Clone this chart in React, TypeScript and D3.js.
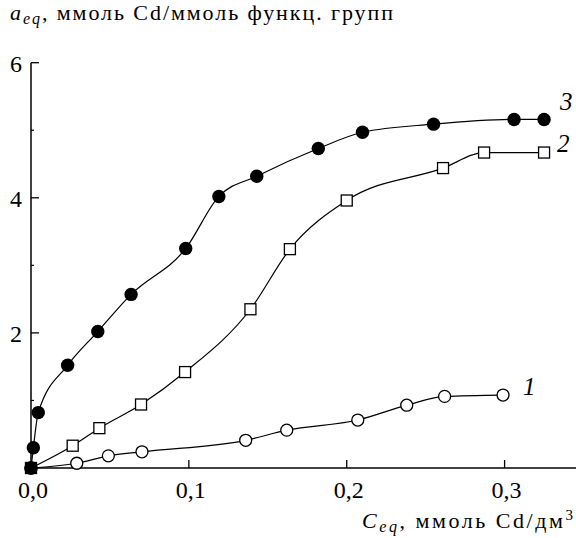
import React from 'react';
import * as d3 from 'd3';

// values
const xTicks = [0, 0.1, 0.2, 0.3];
const xTickLabels = ['0,0', '0,1', '0,2', '0,3'];
const yTicks = [2, 4, 6];
const yMinorTicks = [1, 3, 5];

// curve 1: open circles
const s1x = [0, 0.029, 0.049, 0.0703, 0.136, 0.162, 0.207, 0.238, 0.262, 0.299];
const s1y = [0, 0.07, 0.18, 0.24, 0.41, 0.56, 0.71, 0.93, 1.06, 1.08];

// curve 2: open squares
const s2x = [0, 0.0264, 0.0433, 0.0697, 0.0976, 0.139, 0.164, 0.2, 0.261, 0.287, 0.325];
const s2y = [0, 0.33, 0.59, 0.94, 1.42, 2.35, 3.24, 3.96, 4.44, 4.67, 4.67];

// curve 3: filled circles
const s3x = [0, 0.0015, 0.0046, 0.0232, 0.0423, 0.0634, 0.098, 0.119, 0.143, 0.182, 0.21, 0.255, 0.306, 0.325];
const s3y = [0, 0.3, 0.82, 1.52, 2.02, 2.57, 3.25, 4.02, 4.32, 4.73, 4.97, 5.09, 5.16, 5.16];

const seriesLabels = ['1', '2', '3'];

const W = 576;
const H = 538;
const FONT = 'Liberation Serif';

export default function App() {
  const x = d3.scaleLinear().domain([0, 0.3]).range([31, 504.6]);
  const y = d3.scaleLinear().domain([0, 6]).range([468, 62.7]);

  const line = d3.line<[number, number]>()
    .x(d => x(d[0]))
    .y(d => y(d[1]))
    .curve(d3.curveMonotoneX);

  const pts = (xs: number[], ys: number[]) => xs.map((v, i) => [v, ys[i]] as [number, number]);
  const p1 = pts(s1x, s1y);
  const p2 = pts(s2x, s2y);
  const p3 = pts(s3x, s3y);

  const x0 = x(0);
  const y0 = y(0);

  return (
    <div style={{ position: 'absolute', left: 0, top: 0 }}>
      <svg width={W} height={H}>
        <style>{"text, tspan { font-family: 'Liberation Serif', serif; }"}</style>
        <rect width={W} height={H} fill="#fff" />
        {/* axes */}
        <line x1={x0} x2={W} y1={y0} y2={y0} stroke="#000" strokeWidth={1.5} />
        <line x1={x0} x2={x0} y1={y0} y2={y(6)} stroke="#000" strokeWidth={1.5} />

        {xTicks.slice(1).map(t => (
          <line key={t} x1={x(t)} x2={x(t)} y1={y0} y2={y0 - 8} stroke="#000" strokeWidth={1.3} />
        ))}
        {xTicks.map((t, i) => (
          <text key={t} fontFamily={FONT} x={x(t) + 2} y={498} fontSize={24} textAnchor="middle">{xTickLabels[i]}</text>
        ))}

        {yTicks.map(t => (
          <line key={t} x1={x0} x2={x0 + 8} y1={y(t)} y2={y(t)} stroke="#000" strokeWidth={1.3} />
        ))}
        {yMinorTicks.map(t => (
          <line key={t} x1={x0} x2={x0 + 3} y1={y(t)} y2={y(t)} stroke="#000" strokeWidth={1.2} />
        ))}
        {yTicks.map(t => (
          <text key={t} fontFamily={FONT} x={22} y={y(t) + 9} fontSize={24} textAnchor="end">{t}</text>
        ))}

        {/* curves */}
        {[p1, p2, p3].map((p, i) => (
          <path key={i} d={line(p) || ''} fill="none" stroke="#000" strokeWidth={1.2} />
        ))}

        {/* markers */}
        {p1.map((d, i) => (
          <circle key={'c1' + i} cx={x(d[0])} cy={y(d[1])} r={6} fill="#fff" stroke="#000" strokeWidth={1.3} />
        ))}
        {p3.map((d, i) => (
          <circle key={'c3' + i} cx={x(d[0])} cy={y(d[1])} r={6.7} fill="#000" />
        ))}
        {p2.map((d, i) => (
          <rect key={'s2' + i} x={x(d[0]) - 5.5} y={y(d[1]) - 5.5} width={11} height={11}
            fill={i === 0 ? '#000' : '#fff'} stroke="#000" strokeWidth={1.3} />
        ))}

        {/* series labels */}
        <text fontFamily={FONT} x={523} y={395} fontSize={25} fontStyle="italic">{seriesLabels[0]}</text>
        <text fontFamily={FONT} x={557} y={152} fontSize={25} fontStyle="italic">{seriesLabels[1]}</text>
        <text fontFamily={FONT} x={560} y={110} fontSize={25} fontStyle="italic">{seriesLabels[2]}</text>

        {/* axis titles */}
        <text fontFamily={FONT} x={10} y={20} fontSize={22} textLength={383} lengthAdjust="spacing">
          <tspan fontStyle="italic">a</tspan>
          <tspan fontStyle="italic" fontSize={16} dy={4}>eq</tspan>
          <tspan dy={-4}>, ммоль Cd/ммоль функц. групп</tspan>
        </text>
        <text fontFamily={FONT} x={362} y={528} fontSize={22} textLength={211} lengthAdjust="spacing">
          <tspan fontStyle="italic">C</tspan>
          <tspan fontStyle="italic" fontSize={16} dy={4}>eq</tspan>
          <tspan dy={-4}>, ммоль Cd/дм</tspan>
          <tspan fontSize={15} dy={-8}>3</tspan>
        </text>
      </svg>
    </div>
  );
}
